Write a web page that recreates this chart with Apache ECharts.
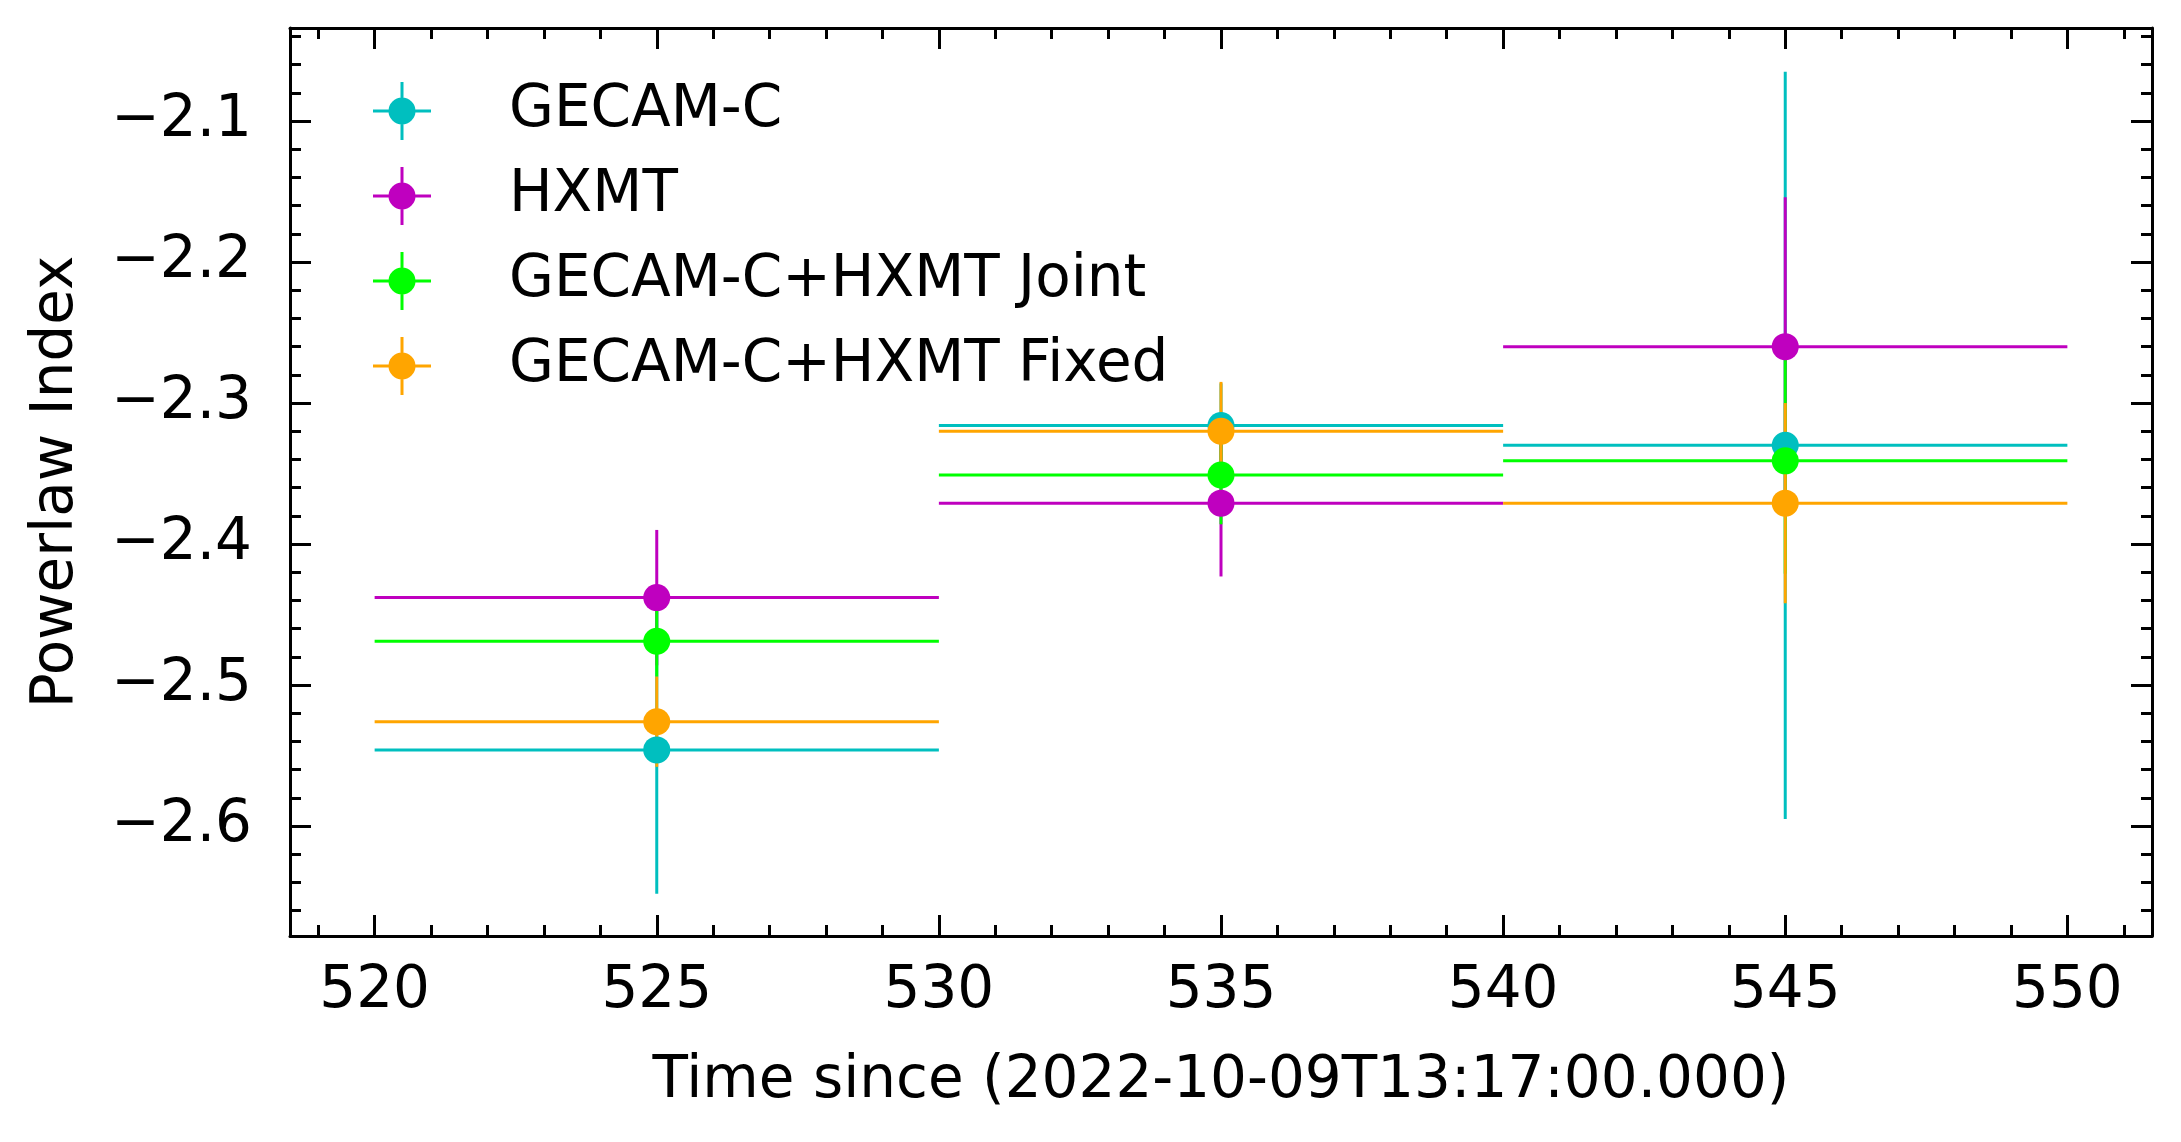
<!DOCTYPE html>
<html><head><meta charset="utf-8">
<script src="https://cdn.jsdelivr.net/npm/echarts@6/dist/echarts.min.js"></script>
<style>html,body{margin:0;padding:0;background:#fff}#c{width:2181px;height:1142px}</style>
</head><body><div id="c"></div>
<script>
// ---- data ----
const times = [525, 535, 545];
const timeHalfWidth = [5, 5, 5];
const seriesNames = ['GECAM-C', 'HXMT', 'GECAM-C+HXMT Joint', 'GECAM-C+HXMT Fixed'];
const gecamC = [-2.546, -2.316, -2.330];
const gecamCErr = [0.102, 0.030, 0.265];
const hxmt = [-2.438, -2.371, -2.260];
const hxmtErr = [0.048, 0.052, 0.106];
const joint = [-2.469, -2.351, -2.341];
const jointErr = [0.025, 0.035, 0.080];
const fixed = [-2.526, -2.320, -2.371];
const fixedErr = [0.032, 0.035, 0.071];
const xTickLabels = [520, 525, 530, 535, 540, 545, 550];
const xMinorTicks = [519, 520, 521, 522, 523, 524, 525, 526, 527, 528, 529, 530, 531, 532, 533, 534, 535, 536, 537, 538, 539, 540, 541, 542, 543, 544, 545, 546, 547, 548, 549, 550, 551];
const yTickLabels = [-2.6, -2.5, -2.4, -2.3, -2.2, -2.1];
const yMinorTicks = [-2.66, -2.64, -2.62, -2.60, -2.58, -2.56, -2.54, -2.52, -2.50, -2.48, -2.46, -2.44, -2.42, -2.40, -2.38, -2.36, -2.34, -2.32, -2.30, -2.28, -2.26, -2.24, -2.22, -2.20, -2.18, -2.16, -2.14, -2.12, -2.10, -2.08, -2.06, -2.04];

const colors = ['#00BFBF', '#BF00BF', '#00FF00', '#FFA500'];
const values = [gecamC, hxmt, joint, fixed];
const errs = [gecamCErr, hxmtErr, jointErr, fixedErr];

const FONT = 'DejaVu Sans';
const FS = 58;
const LW = 3;

function errRender(params, api) {
  const x = api.value(0), y = api.value(1), xe = api.value(2), ye = api.value(3);
  const l = api.coord([x - xe, y]), r = api.coord([x + xe, y]);
  const t = api.coord([x, y + ye]), b = api.coord([x, y - ye]);
  const style = { stroke: api.visual('color'), lineWidth: LW };
  return { type: 'group', children: [
    { type: 'line', shape: { x1: l[0], y1: l[1], x2: r[0], y2: r[1] }, style: style },
    { type: 'line', shape: { x1: t[0], y1: t[1], x2: b[0], y2: b[1] }, style: style }
  ]};
}

const barSeries = seriesNames.map((name, i) => ({
  name: name, type: 'custom', renderItem: errRender, z: 2, silent: true,
  itemStyle: { color: colors[i] },
  encode: { x: 0, y: 1 },
  data: times.map((t, k) => [t, values[i][k], timeHalfWidth[k], errs[i][k]])
}));
const markerSeries = seriesNames.map((name, i) => ({
  name: name, type: 'scatter', z: 3, symbol: 'circle', symbolSize: 27,
  itemStyle: { color: colors[i], opacity: 1 },
  data: times.map((t, k) => [t, values[i][k]])
}));

const iconPath = 'path://M0 27.5H58V30.5H0Z M27.5 0H30.5V58H27.5Z M15.5 29A13.5 13.5 0 1 1 42.5 29A13.5 13.5 0 1 1 15.5 29Z';

const X_MIN = 518.5, X_MAX = 551.5, Y_MIN = -2.678, Y_MAX = -2.034;
const axisLineStyle = { show: true, lineStyle: { color: '#000', width: LW } };

function xAxisDef(pos, major, showLine, showLabel) {
  return {
    type: 'value', position: pos, min: X_MIN, max: X_MAX, offset: 0,
    axisLine: showLine ? axisLineStyle : { show: false },
    splitLine: { show: false },
    axisTick: { show: true, inside: true, length: major ? 21 : 11, lineStyle: { color: '#000', width: LW },
                customValues: major ? xTickLabels : xMinorTicks },
    axisLabel: showLabel ? { show: true, customValues: xTickLabels, color: '#000', fontFamily: FONT, fontSize: FS, margin: 27 } : { show: false },
    name: showLabel ? 'Time since (2022-10-09T13:17:00.000)' : '',
    nameLocation: 'middle', nameGap: 117,
    nameTextStyle: { color: '#000', fontFamily: FONT, fontSize: FS }
  };
}
function yAxisDef(pos, major, showLine, showLabel) {
  return {
    type: 'value', position: pos, min: Y_MIN, max: Y_MAX, offset: 0,
    axisLine: showLine ? axisLineStyle : { show: false },
    splitLine: { show: false },
    axisTick: { show: true, inside: true, length: major ? 21 : 11, lineStyle: { color: '#000', width: LW },
                customValues: major ? yTickLabels : yMinorTicks },
    axisLabel: showLabel ? { show: true, customValues: yTickLabels, color: '#000', fontFamily: FONT, fontSize: FS, margin: 38,
      formatter: v => (v < 0 ? '\u2212' : '') + Math.abs(v).toFixed(1) } : { show: false },
    name: showLabel ? 'Powerlaw Index' : '',
    nameLocation: 'middle', nameGap: 204, nameRotate: 90,
    nameTextStyle: { color: '#000', fontFamily: FONT, fontSize: FS }
  };
}

const chart = echarts.init(document.getElementById('c'), null, { renderer: 'canvas' });
chart.setOption({
  animation: false,
  backgroundColor: '#fff',
  grid: { left: 290, top: 28, width: 1862, height: 908, containLabel: false },
  xAxis: [
    xAxisDef('bottom', true, true, true),
    xAxisDef('bottom', false, false, false),
    xAxisDef('top', true, true, false),
    xAxisDef('top', false, false, false)
  ],
  yAxis: [
    yAxisDef('left', true, true, true),
    yAxisDef('left', false, false, false),
    yAxisDef('right', true, true, false),
    yAxisDef('right', false, false, false)
  ],
  legend: {
    orient: 'vertical', left: 373, top: 82, padding: 0, itemGap: 27,
    itemWidth: 58, itemHeight: 58, selectedMode: false,
    data: seriesNames.map((n, i) => ({ name: n, icon: iconPath, itemStyle: { color: colors[i] } })),
    textStyle: { color: '#000', fontFamily: FONT, fontSize: FS, padding: [0, 0, 0, 73] }
  },
  series: barSeries.concat(markerSeries)
});
</script></body></html>
